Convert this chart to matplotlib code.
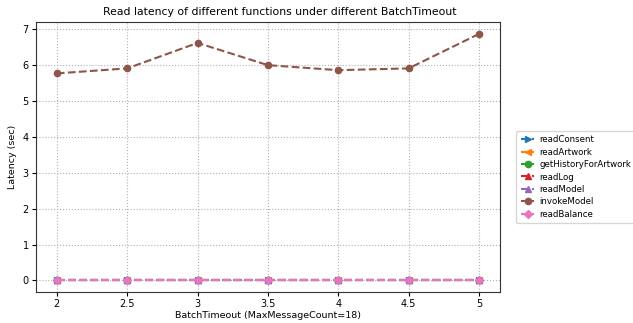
import matplotlib
matplotlib.use("Agg")
import matplotlib.pyplot as plt

batch_timeout = [2, 2.5, 3, 3.5, 4, 4.5, 5]
x_labels = ["2", "2.5", "3", "3.5", "4", "4.5", "5"]

read_consent = [0.02, 0.02, 0.02, 0.02, 0.02, 0.02, 0.02]
read_artwork = [0.02, 0.02, 0.02, 0.02, 0.02, 0.02, 0.02]
get_history_for_artwork = [0.02, 0.02, 0.02, 0.02, 0.02, 0.02, 0.02]
read_log = [0.01, 0.01, 0.01, 0.01, 0.01, 0.01, 0.01]
read_model = [0.01, 0.01, 0.01, 0.01, 0.01, 0.01, 0.01]
invoke_model = [5.77, 5.91, 6.62, 6.00, 5.86, 5.91, 6.87]
read_balance = [0.01, 0.01, 0.01, 0.01, 0.01, 0.01, 0.01]

series = [
    ("readConsent", read_consent, ">", "#1f77b4"),
    ("readArtwork", read_artwork, "<", "#ff7f0e"),
    ("getHistoryForArtwork", get_history_for_artwork, "o", "#2ca02c"),
    ("readLog", read_log, "^", "#d62728"),
    ("readModel", read_model, "^", "#9467bd"),
    ("invokeModel", invoke_model, "o", "#8c564b"),
    ("readBalance", read_balance, "D", "#e377c2"),
]

fig = plt.figure(figsize=(6.33, 3.23), dpi=100)
ax = fig.add_axes([0.0565, 0.095, 0.7335, 0.838])
for name, vals, mk, col in series:
    ax.plot(batch_timeout, vals, linestyle="--", marker=mk, color=col,
            linewidth=1.5, markersize=4.5, label=name)

ax.set_xticks(batch_timeout)
ax.set_xticklabels(x_labels)
ax.set_yticks(range(0, 8))
ax.tick_params(labelsize=7, pad=2, length=3)
ax.grid(True, linestyle=":", color="#b0b0b0", linewidth=0.8)
ax.set_xlabel("BatchTimeout (MaxMessageCount=18)", fontsize=6.8, labelpad=1)
ax.set_ylabel("Latency (sec)", fontsize=6.8, labelpad=4)
ax.set_title("Read latency of different functions under different BatchTimeout",
             fontsize=7.8, x=0.526, pad=5)
ax.legend(loc="center left", bbox_to_anchor=(1.035, 0.426), fontsize=6.2,
          handlelength=1.6, borderpad=0.5, labelspacing=0.4, handletextpad=0.6,
          borderaxespad=0.0)
for s in ax.spines.values():
    s.set_color("#333333")

fig.savefig("out.png", dpi=100)
